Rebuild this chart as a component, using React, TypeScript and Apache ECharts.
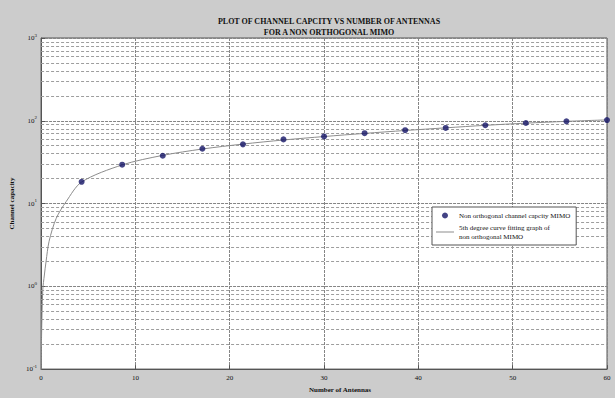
import React, { useEffect, useRef } from "react";
import * as echarts from "echarts";

const titleLines = ["PLOT OF CHANNEL CAPCITY VS NUMBER OF ANTENNAS", "FOR A NON ORTHOGONAL MIMO"];
const xAxisName = "Number of Antennas";
const yAxisName = "Channel capacity";
const pointsName = "Non orthogonal channel capcity MIMO";
const curveName = "5th degree curve fitting graph of\nnon orthogonal MIMO";

const antennas = [4.3, 8.6, 12.9, 17.1, 21.4, 25.7, 30, 34.3, 38.6, 42.9, 47.1, 51.4, 55.7, 60];
const capacity = [18.3, 29.5, 37.8, 45.9, 51.9, 59.6, 64.7, 70.8, 76.9, 82.0, 88.3, 94.0, 98.6, 102];

const curveX = [0.02, 0.05, 0.18, 0.35, 0.53, 0.85, 1.6, 2.67, 4.3, 8.6, 12.9, 17.1, 21.4, 25.7, 30, 34.3, 38.6, 42.9, 47.1, 51.4, 55.7, 60];
const curveY = [0.09, 0.24, 0.9, 1.37, 2.0, 3.5, 6.6, 10.6, 18.2, 29.3, 38.2, 45.6, 52.3, 58.6, 64.5, 70.4, 76.3, 82.2, 88.1, 93.6, 98.4, 102.5];

const xTicks = [0, 10, 20, 30, 40, 50, 60];
const minorGrid = [
  0.2, 0.3, 0.4, 0.5, 0.6, 0.7, 0.8, 0.9,
  2, 3, 4, 5, 6, 7, 8, 9,
  20, 30, 40, 50, 60, 70, 80, 90,
  200, 300, 400, 500, 600, 700, 800, 900,
];

const SERIF = "'Liberation Serif', 'DejaVu Serif', serif";

export default function App() {
  const ref = useRef<HTMLDivElement>(null);
  useEffect(() => {
    if (!ref.current) return;
    const chart = echarts.init(ref.current, undefined, { renderer: "svg" });
    chart.setOption({
      animation: false,
      backgroundColor: "#cccccc",
      title: {
        text: titleLines.join("\n"),
        left: 324,
        top: 11,
        textAlign: "center",
        textStyle: { fontFamily: SERIF, fontSize: 8, fontWeight: "bold", color: "#111", lineHeight: 11 },
      },
      legend: {
        orient: "vertical",
        left: 432,
        top: 207,
        z: 20,
        backgroundColor: "#ffffff",
        borderColor: "#555",
        borderWidth: 1,
        borderRadius: 0,
        padding: [4, 6, 4, 4],
        itemGap: 3,
        itemWidth: 18,
        itemHeight: 6,
        textStyle: { fontFamily: SERIF, fontSize: 7, color: "#111", lineHeight: 9 },
        data: [
          { name: pointsName, icon: "circle" },
          { name: curveName, icon: "path://M0,0 H18 V1 H0 Z" },
        ],
      },
      grid: {
        left: 41,
        right: 8,
        top: 38,
        bottom: 25,
        show: true,
        backgroundColor: "#ffffff",
        borderColor: "#555",
        borderWidth: 1,
      },
      xAxis: {
        type: "value",
        min: 0,
        max: 60,
        interval: 10,
        name: xAxisName,
        nameLocation: "middle",
        nameGap: 14,
        nameTextStyle: { fontFamily: SERIF, fontSize: 7, fontWeight: "bold", color: "#111", padding: [0, 0, 0, 32] },
        axisLine: { show: true, lineStyle: { color: "#555" } },
        axisTick: { show: true, inside: true, length: 4, lineStyle: { color: "#555" } },
        axisLabel: {
          fontFamily: SERIF,
          fontSize: 7,
          color: "#111",
          margin: 5,
          customValues: xTicks,
        },
        splitLine: { show: true, lineStyle: { color: "#858585", width: 1, type: [3, 1] } },
      },
      yAxis: {
        type: "log",
        logBase: 10,
        min: 0.1,
        max: 1000,
        splitNumber: 4,
        name: yAxisName,
        nameLocation: "middle",
        nameGap: 20,
        nameTextStyle: { fontFamily: SERIF, fontSize: 7, fontWeight: "bold", color: "#111" },
        axisLine: { show: true, lineStyle: { color: "#555" } },
        axisTick: { show: true, inside: true, length: 4, lineStyle: { color: "#555" } },
        axisLabel: {
          margin: 4,
          formatter: (v: number) => `{b|10}{s|${Math.round(Math.log10(v))}}`,
          rich: {
            b: { fontFamily: SERIF, fontSize: 7, color: "#111" },
            s: { fontFamily: SERIF, fontSize: 5, color: "#111", verticalAlign: "top", padding: [0, 0, 6, 0] },
          },
        },
        splitLine: { show: true, lineStyle: { color: "#858585", width: 1, type: [3, 1] } },
      },
      series: [
        {
          name: "minor",
          type: "line",
          data: [],
          silent: true,
          z: 1,
          markLine: {
            silent: true,
            symbol: "none",
            z: 1,
            label: { show: false },
            lineStyle: { color: "#9e9e9e", width: 1, type: [3, 2] },
            data: minorGrid.map((v) => ({ yAxis: v })),
          },
          tooltip: { show: false },
        },
        {
          name: curveName,
          type: "line",
          data: curveX.map((x, i) => [x, curveY[i]]),
          smooth: 0.3,
          symbol: "none",
          lineStyle: { color: "#8c8c8c", width: 1 },
          itemStyle: { color: "#8c8c8c" },
          z: 3,
        },
        {
          name: pointsName,
          type: "scatter",
          data: antennas.map((x, i) => [x, capacity[i]]),
          symbol: "circle",
          symbolSize: 6,
          itemStyle: { color: "#141466" },
          z: 4,
        },
      ],
    });
    return () => chart.dispose();
  }, []);
  return (
    <div
      ref={ref}
      style={{ position: "fixed", left: 0, top: 0, width: 615, height: 398 }}
    />
  );
}
